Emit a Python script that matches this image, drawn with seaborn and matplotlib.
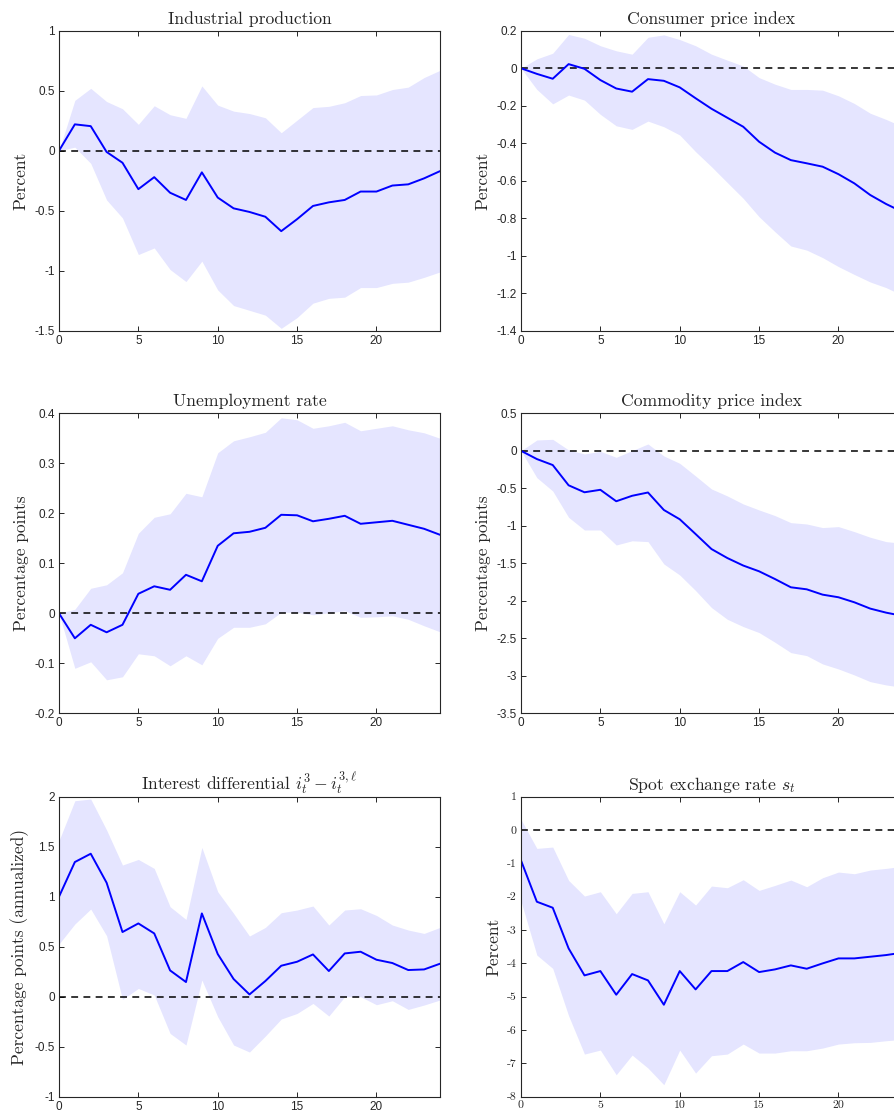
import numpy as np
import pandas as pd
import matplotlib
matplotlib.use("Agg")
import matplotlib.pyplot as plt
import seaborn as sns
from matplotlib.ticker import FuncFormatter, MultipleLocator

# horizon (months)
horizon = list(range(25))

# Industrial production
ip_irf = [0, 0.22, 0.205, -0.01, -0.10, -0.32, -0.22, -0.35, -0.41, -0.18, -0.39, -0.48, -0.51,
          -0.55, -0.67, -0.57, -0.46, -0.43, -0.41, -0.34, -0.34, -0.29, -0.28, -0.23, -0.17]
ip_hi = [0, 0.42, 0.52, 0.41, 0.35, 0.22, 0.375, 0.30, 0.27, 0.54, 0.38, 0.33, 0.31,
         0.275, 0.15, 0.255, 0.36, 0.37, 0.40, 0.46, 0.465, 0.51, 0.53, 0.61, 0.67]
ip_lo = [0, 0.03, -0.105, -0.41, -0.56, -0.865, -0.81, -0.99, -1.09, -0.92, -1.16, -1.29, -1.33,
         -1.37, -1.48, -1.39, -1.27, -1.23, -1.22, -1.14, -1.14, -1.105, -1.095, -1.055, -1.01]

# Consumer price index
cpi_irf = [0, -0.03, -0.056, 0.022, -0.003, -0.063, -0.108, -0.125, -0.058, -0.067, -0.102, -0.16,
           -0.216, -0.264, -0.312, -0.392, -0.45, -0.49, -0.507, -0.525, -0.565, -0.614, -0.676,
           -0.724, -0.765]
cpi_hi = [0, 0.05, 0.08, 0.18, 0.16, 0.12, 0.093, 0.075, 0.165, 0.178, 0.153, 0.12, 0.075, 0.043,
          0.012, -0.05, -0.085, -0.113, -0.113, -0.117, -0.147, -0.188, -0.24, -0.273, -0.31]
cpi_lo = [0, -0.113, -0.19, -0.143, -0.17, -0.246, -0.307, -0.326, -0.282, -0.312, -0.356, -0.445,
          -0.525, -0.61, -0.694, -0.792, -0.872, -0.948, -0.97, -1.01, -1.058, -1.10, -1.14,
          -1.17, -1.21]

# Unemployment rate
ur_irf = [0, -0.05, -0.023, -0.038, -0.023, 0.039, 0.054, 0.047, 0.077, 0.064, 0.135, 0.16, 0.163,
          0.171, 0.197, 0.196, 0.184, 0.189, 0.195, 0.179, 0.182, 0.185, 0.177, 0.169, 0.157]
ur_hi = [0, 0.008, 0.05, 0.057, 0.081, 0.16, 0.192, 0.199, 0.24, 0.233, 0.321, 0.345, 0.353,
         0.362, 0.391, 0.387, 0.37, 0.375, 0.382, 0.365, 0.37, 0.375, 0.367, 0.361, 0.35]
ur_lo = [0, -0.11, -0.097, -0.133, -0.127, -0.081, -0.085, -0.105, -0.085, -0.103, -0.05, -0.028,
         -0.028, -0.021, 0.002, 0.002, -0.003, 0.001, 0.005, -0.008, -0.007, -0.005, -0.012,
         -0.025, -0.037]

# Commodity price index
com_irf = [0, -0.11, -0.19, -0.46, -0.553, -0.52, -0.673, -0.60, -0.556, -0.789, -0.913, -1.11,
           -1.31, -1.43, -1.53, -1.607, -1.71, -1.82, -1.847, -1.918, -1.953, -2.02, -2.104,
           -2.158, -2.20]
com_hi = [0, 0.144, 0.153, 0.011, -0.042, -0.007, -0.087, 0.002, 0.091, -0.069, -0.167, -0.336,
          -0.509, -0.602, -0.709, -0.789, -0.864, -0.958, -0.976, -1.024, -1.011, -1.078, -1.153,
          -1.211, -1.233]
com_lo = [0, -0.358, -0.536, -0.887, -1.056, -1.056, -1.256, -1.20, -1.211, -1.509, -1.656, -1.864,
          -2.09, -2.247, -2.344, -2.424, -2.553, -2.691, -2.731, -2.842, -2.909, -2.989, -3.078,
          -3.122, -3.153]

# Interest differential
idiff_irf = [1.0, 1.347, 1.43, 1.14, 0.647, 0.733, 0.633, 0.263, 0.147, 0.833, 0.427, 0.177, 0.023,
             0.157, 0.31, 0.35, 0.423, 0.257, 0.433, 0.45, 0.37, 0.337, 0.267, 0.273, 0.33]
idiff_hi = [1.56, 1.96, 1.977, 1.667, 1.317, 1.373, 1.283, 0.90, 0.773, 1.493, 1.05, 0.833, 0.607,
            0.693, 0.84, 0.867, 0.907, 0.717, 0.867, 0.88, 0.813, 0.717, 0.667, 0.633, 0.693]
idiff_lo = [0.527, 0.727, 0.877, 0.61, -0.027, 0.083, 0.017, -0.367, -0.483, 0.167, -0.20, -0.483,
            -0.553, -0.393, -0.223, -0.167, -0.067, -0.193, 0.0, 0.0, -0.08, -0.04, -0.127,
            -0.083, -0.033]

# Spot exchange rate
spot_irf = [-0.91, -2.15, -2.33, -3.55, -4.36, -4.23, -4.94, -4.32, -4.51, -5.24, -4.23, -4.78,
            -4.23, -4.23, -3.96, -4.26, -4.18, -4.06, -4.16, -4.0, -3.85, -3.85, -3.80, -3.75, -3.68]
spot_hi = [0.32, -0.55, -0.51, -1.51, -1.98, -1.85, -2.51, -1.90, -1.85, -2.81, -1.85, -2.25,
           -1.68, -1.73, -1.49, -1.81, -1.66, -1.50, -1.70, -1.43, -1.26, -1.31, -1.20, -1.15, -1.09]
spot_lo = [-2.13, -3.75, -4.15, -5.57, -6.72, -6.60, -7.34, -6.75, -7.14, -7.64, -6.60, -7.29,
           -6.77, -6.72, -6.42, -6.69, -6.69, -6.62, -6.62, -6.54, -6.42, -6.38, -6.37, -6.32, -6.28]

panels = [
    ("Industrial production", "Percent", ip_irf, ip_lo, ip_hi, (-1.5, 1), 0.5),
    ("Consumer price index", "Percent", cpi_irf, cpi_lo, cpi_hi, (-1.4, 0.2), 0.2),
    ("Unemployment rate", "Percentage points", ur_irf, ur_lo, ur_hi, (-0.2, 0.4), 0.1),
    ("Commodity price index", "Percentage points", com_irf, com_lo, com_hi, (-3.5, 0.5), 0.5),
    (r"Interest differential $i_t^3 - i_t^{3,\ell}$", "Percentage points (annualized)",
     idiff_irf, idiff_lo, idiff_hi, (-1, 2), 0.5),
    (r"Spot exchange rate $s_t$", "Percent", spot_irf, spot_lo, spot_hi, (-8, 1), 1),
]

sns.set_style("ticks")
plt.rcParams["font.family"] = ["cmr10", "DejaVu Serif"]
plt.rcParams["mathtext.fontset"] = "cm"
plt.rcParams["axes.unicode_minus"] = False
plt.rcParams["axes.formatter.use_mathtext"] = True

fig = plt.figure(figsize=(8.95, 11.14), dpi=100)

lefts = [0.0659, 0.5821]
bottoms = [0.7031, 0.3597, 0.0155]
w, h = 0.4257, 0.2693

fmt = FuncFormatter(lambda v, p: "%g" % round(v, 6))
tick_col = "#262626"

for i, (title, ylab, irf, lo, hi, ylim, step) in enumerate(panels):
    ax = fig.add_axes([lefts[i % 2], bottoms[i // 2], w, h])
    df = pd.DataFrame({"h": horizon, "irf": irf, "lo": lo, "hi": hi})
    ax.fill_between(df["h"], df["lo"], df["hi"], color="#e5e5ff", lw=0)
    ax.axhline(0, color="k", ls=(0, (4.5, 3.5)), lw=1.1)
    sns.lineplot(data=df, x="h", y="irf", ax=ax, color="#0000ff", lw=1.4)
    ax.set_xlim(0, 24)
    ax.set_ylim(*ylim)
    ax.xaxis.set_major_locator(MultipleLocator(5))
    ax.yaxis.set_major_locator(MultipleLocator(step))
    ax.xaxis.set_major_formatter(fmt)
    ax.yaxis.set_major_formatter(fmt)
    ax.tick_params(direction="in", length=3.5, width=0.7, top=True, right=True,
                   colors=tick_col, labelsize=8.5, pad=3)
    if i < 5:
        for lab in ax.get_xticklabels() + ax.get_yticklabels():
            lab.set_fontfamily("Liberation Sans")
    for s in ax.spines.values():
        s.set_linewidth(0.8)
        s.set_color(tick_col)
    ax.set_title(title, fontsize=12.7, pad=5)
    ax.set_xlabel("")
    ax.set_ylabel(ylab, fontsize=12.5, labelpad=4)

fig.savefig("out.png", dpi=100)
